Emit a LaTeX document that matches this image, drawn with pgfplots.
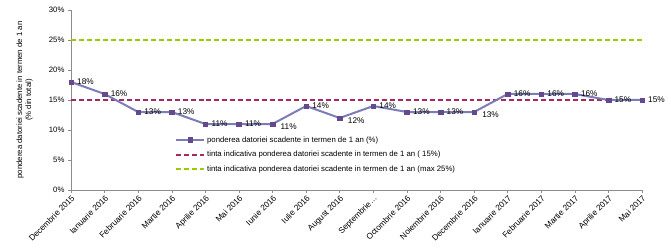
\documentclass[border=0pt]{standalone}
\usepackage{fontspec}
\setmainfont{Liberation Sans}
\usepackage{pgfplots}
\pgfplotsset{compat=1.18}
\definecolor{serline}{HTML}{7C7CB8}
\definecolor{sermark}{HTML}{65498F}
\definecolor{tred}{HTML}{A3295F}
\definecolor{tgreen}{RGB}{153,204,0}
\definecolor{axgray}{RGB}{140,140,140}
\begin{document}
\begin{tikzpicture}
\begin{axis}[
  at={(0,0)}, anchor=south west,
  scale only axis, width=571bp, height=180bp,
  xmin=0, xmax=17, ymin=0, ymax=30,
  axis x line*=bottom, axis y line*=left,
  axis line style={color=axgray, line width=0.6pt},
  tick align=outside, major tick length=3bp,
  tick style={color=axgray, line width=0.5pt},
  xtick={0,...,17},
  xticklabels={Decembrie 2015,Ianuarie 2016,Februarie 2016,Martie 2016,Aprilie 2016,Mai 2016,Iunie 2016,Iulie 2016,August 2016,Septembrie\ldots,Octombrie 2016,Noiembrie 2016,Decembrie 2016,Ianuarie 2017,Februarie 2017,Martie 2017,Aprilie 2017,Mai 2017},
  xticklabel style={rotate=45, anchor=north east, font=\fontsize{8.3}{9}\selectfont, inner sep=1pt},
  ytick={0,5,10,15,20,25,30},
  yticklabel={\pgfmathprintnumber{\tick}\%},
  yticklabel style={font=\fontsize{7.8}{8}\selectfont},
  /pgf/number format/assume math mode=true,
  ylabel={ponderea datoriei scadente in termen de 1 an\\(\% din total)},
  ylabel style={at={(axis description cs:-0.0814,0.5)}, anchor=center, align=center, font=\fontsize{7.8}{9}\selectfont},
  legend style={draw=none, fill=none, at={(0.182,0.31)}, anchor=north west, font=\fontsize{7.8}{9}\selectfont, row sep=3.5pt, inner sep=0pt},
  legend cell align=left,
  legend image code/.code={\draw[#1] (0bp,0bp) -- (28bp,0bp);},
]
\addlegendimage{legend image code/.code={\draw[color=serline, line width=2bp] (0bp,0bp) -- (28bp,0bp); \fill[sermark] (11.6bp,-2.4bp) rectangle (16.4bp,2.4bp);}}
\addlegendentry{ponderea datoriei scadente in termen de 1 an (\%)}
\addlegendimage{legend image code/.code={\draw[color=tred, line width=2bp, dash pattern=on 5pt off 3pt] (0bp,0bp) -- (28bp,0bp);}}
\addlegendentry{tinta indicativa ponderea datoriei scadente in termen de 1 an (  15\%)}
\addlegendimage{legend image code/.code={\draw[color=tgreen, line width=2bp, dash pattern=on 5pt off 3pt] (0bp,0bp) -- (28bp,0bp);}}
\addlegendentry{tinta indicativa ponderea datoriei scadente in termen de 1 an (max 25\%)}
\addplot[forget plot, color=tgreen, line width=2bp, dash pattern=on 5pt off 3pt] coordinates {(0,25) (17,25)};
\addplot[forget plot, color=tred, line width=2bp, dash pattern=on 5pt off 3pt] coordinates {(0,15) (17,15)};
\addplot[forget plot, color=serline, line width=2bp, mark=square*, mark size=2.3pt, mark options={color=sermark, fill=sermark, line width=0.4pt}] coordinates {
(0,18) (1,16) (2,13) (3,13) (4,11) (5,11) (6,11) (7,14) (8,12) (9,14) (10,13) (11,13) (12,13) (13,16) (14,16) (15,16) (16,15) (17,15)};
% labels right of points
\addplot[draw=none, forget plot, nodes near coords={\pgfmathprintnumber{\pgfplotspointmeta}\%},
  point meta=explicit, nodes near coords style={anchor=west, font=\fontsize{8.3}{9}\selectfont, inner sep=1pt, xshift=5bp, yshift=0.5bp, text=black}] coordinates {
(0,18) [18] (1,16) [16] (2,13) [13] (3,13) [13] (4,11) [11] (5,11) [11] (7,14) [14] (9,14) [14] (10,13) [13] (11,13) [13] (13,16) [16] (14,16) [16] (15,16) [16] (16,15) [15] (17,15) [15]};
% labels below-right
\addplot[draw=none, forget plot, nodes near coords={\pgfmathprintnumber{\pgfplotspointmeta}\%},
  point meta=explicit, nodes near coords style={anchor=north west, font=\fontsize{8.3}{9}\selectfont, inner sep=1pt, xshift=7bp, yshift=1bp, text=black}] coordinates {
(6,11) [11] (8,12) [12] (12,13) [13]};
\end{axis}
\pgfresetboundingbox
\path[use as bounding box] (-71bp,-58bp) rectangle (600bp,190bp);
\end{tikzpicture}
\end{document}
